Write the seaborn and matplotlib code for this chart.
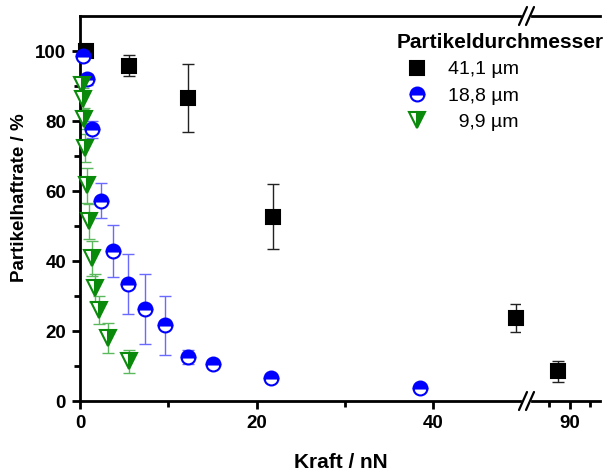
import numpy as np
import pandas as pd
import matplotlib
matplotlib.use("Agg")
import matplotlib.pyplot as plt
from matplotlib.lines import Line2D
import seaborn as sns

# ---------------- data ----------------
sq_x = [0.7, 5.5, 12.2, 21.8, 49.4, 87.3]
sq_y = [100.0, 95.8, 86.6, 52.7, 23.7, 8.5]
sq_err = [0.0, 3.0, 9.8, 9.4, 4.1, 3.0]

ci_x = [0.3, 0.75, 1.4, 2.4, 3.7, 5.4, 7.4, 9.6, 12.2, 15.0, 21.6, 38.5]
ci_y = [98.7, 91.9, 77.6, 57.2, 42.9, 33.4, 26.3, 21.6, 12.6, 10.7, 6.5, 3.6]
ci_err = [0.5, 1.5, 2.5, 5.0, 7.5, 8.5, 10.0, 8.5, 2.0, 1.0, 1.0, 0.5]

tr_x = [0.19, 0.3, 0.45, 0.56, 0.76, 1.05, 1.39, 1.69, 2.14, 3.13, 5.53]
tr_y = [90.2, 86.4, 80.7, 72.2, 61.7, 51.3, 40.8, 32.3, 26.1, 18.0, 11.4]
tr_err = [2.0, 3.0, 3.0, 4.0, 5.0, 5.0, 5.0, 4.0, 4.0, 4.3, 3.3]

labels = ["41,1 µm", "18,8 µm", "  9,9 µm"]
legend_title = "Partikeldurchmesser"
x_label = "Kraft / nN"
y_label = "Partikelhaftrate / %"

# --------------- style ----------------
sns.set_style("ticks")
plt.rcParams["font.family"] = ["Liberation Sans", "DejaVu Sans"]
plt.rcParams["axes.linewidth"] = 2.0
for k in ("text.color", "axes.labelcolor", "axes.edgecolor", "xtick.color", "ytick.color"):
    plt.rcParams[k] = "black"

BLUE = "#0000ff"
GREEN = "#0a8a0a"
BLACK = "#000000"

fig = plt.figure(figsize=(6.05, 4.71), dpi=100)
W, H = 605.0, 471.0
y_bot = 1 - 401 / H
y_top = 1 - 16 / H
axL = fig.add_axes([80 / W, y_bot, (520 - 80) / W, y_top - y_bot])
axR = fig.add_axes([532 / W, y_bot, (600 - 532) / W, y_top - y_bot], sharey=axL)

XL = (0, 49.8)
XR = (80.9, 97.4)

series = [
    (sq_x, sq_y, sq_err, "s", "full", BLACK, "#222222", 10),
    (ci_x, ci_y, ci_err, "o", "top", BLUE, "#6a6aff", 10),
    (tr_x, tr_y, tr_err, "v", "right", GREEN, "#5cb85c", 11),
]

for ax, (lo, hi) in ((axL, XL), (axR, XR)):
    for xs, ys, es, mk, fs, col, ecol, ms in series:
        df = pd.DataFrame({"x": xs, "y": ys, "e": es})
        df = df[(df["x"] >= lo) & (df["x"] <= hi)]
        if df.empty:
            continue
        ax.errorbar(df["x"], df["y"], yerr=df["e"], fmt="none", ecolor=ecol,
                    elinewidth=1.0, capsize=4, capthick=1.0, zorder=2)
        sns.lineplot(data=df, x="x", y="y", ax=ax, marker=mk, linestyle="none",
                     markersize=ms, color=col,
                     markeredgecolor=col, markeredgewidth=1.5,
                     fillstyle=fs, markerfacecoloralt="white",
                     estimator=None, sort=False, legend=False, zorder=3,
                     clip_on=False)

axL.set_xlim(*XL)
axR.set_xlim(*XR)
axL.set_ylim(0, 110)

axL.set_xticks([0, 20, 40])
axL.set_xticks([10, 30], minor=True)
axR.set_xticks([90])
axR.set_xticks([85, 95], minor=True)
axL.set_yticks([0, 20, 40, 60, 80, 100])
axL.set_yticks([10, 30, 50, 70, 90], minor=True)

for ax in (axL, axR):
    ax.tick_params(axis="both", which="major", direction="out", length=6, width=2,
                   labelsize=13.5, pad=4, colors="black")
    ax.tick_params(axis="both", which="minor", direction="out", length=4, width=2,
                   colors="black")
    for lab in ax.get_xticklabels() + ax.get_yticklabels():
        lab.set_fontweight("bold")
    ax.set_xlabel("")
    ax.set_ylabel("")
    ax.spines["right"].set_visible(False)
    ax.spines["top"].set_visible(True)
    for s in ax.spines.values():
        s.set_color("black")

axR.spines["left"].set_visible(False)
axR.tick_params(axis="y", which="both", left=False, labelleft=False)

fig.text(20 / W, 1 - 198 / H, y_label, fontsize=13.5, fontweight="bold",
         ha="center", va="center", rotation=90, color="black")
fig.text(341 / W, 1 - 462 / H, x_label, fontsize=15, fontweight="bold",
         ha="center", va="center", color="black")

# break marks
for yp in (401, 16):
    for dx in (0, 7):
        x0 = (519 + dx) / W
        fig.add_artist(Line2D([x0, x0 + 8 / W], [1 - (yp + 9) / H, 1 - (yp - 9) / H],
                              color="black", lw=1.6, transform=fig.transFigure))

handles = [
    Line2D([], [], marker="s", linestyle="none", color=BLACK, markersize=10,
           markeredgewidth=1.5),
    Line2D([], [], marker="o", linestyle="none", color=BLUE, markersize=10,
           fillstyle="top", markerfacecoloralt="white", markeredgewidth=1.5),
    Line2D([], [], marker="v", linestyle="none", color=GREEN, markersize=11,
           fillstyle="right", markerfacecoloralt="white", markeredgewidth=1.5),
]
leg = fig.legend(handles, labels, title=legend_title, loc="upper left",
                 bbox_to_anchor=(397 / W, 1 - 33 / H), frameon=False,
                 fontsize=14, title_fontproperties={"weight": "bold", "size": 15},
                 handletextpad=0.55, labelspacing=0.45, borderaxespad=0,
                 borderpad=0, handlelength=2.05)
leg._legend_box.align = "left"

fig.savefig("out.png", dpi=100)
